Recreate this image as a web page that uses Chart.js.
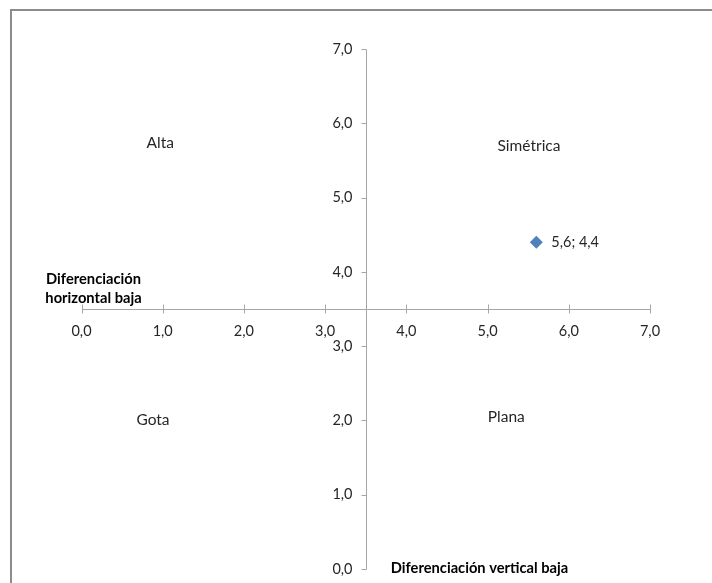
<!DOCTYPE html>
<html>
<head>
<meta charset="utf-8">
<script src="https://cdn.jsdelivr.net/npm/chart.js@4/dist/chart.umd.min.js"></script>
<style>
  html, body { margin: 0; padding: 0; background: #ffffff; }
  canvas { display: block; }
</style>
</head>
<body>
<canvas id="chart" width="712" height="583"></canvas>
<script>
// Tick values and their labels (decimal comma)
const xTickValues = [0, 1, 2, 3, 4, 5, 6, 7];
const yTickValues = [0, 1, 2, 3, 4, 5, 6, 7];
const xTickLabels = ['0,0', '1,0', '2,0', '3,0', '4,0', '5,0', '6,0', '7,0'];
const yTickLabels = ['0,0', '1,0', '2,0', '3,0', '4,0', '5,0', '6,0', '7,0'];

// The single observation
const pointX = [5.6];
const pointY = [4.4];
const pointLabels = ['5,6; 4,4'];

// Where the two axes cross
const crossX = 3.5;
const crossY = 3.5;

// Quadrant names
const quadrantNames = ['Alta', 'Simétrica', 'Gota', 'Plana'];

// Axis titles
const xTitleLines = ['Diferenciación', 'horizontal baja'];
const yTitle = 'Diferenciación vertical baja';

const FONT = 'Lato, "Open Sans", sans-serif';
const TEXT = '#262626';
const AXIS = '#A6A6A6';

// anchors of the quadrant names, in data units
const quadrantAnchors = [[0.97, 5.74], [5.51, 5.70], [0.88, 2.0], [5.23, 2.04]];

const quadrantPlugin = {
  id: 'quadrantAxes',
  beforeDatasetsDraw(chart) {
    const ctx = chart.ctx;
    const xs = chart.scales.x, ys = chart.scales.y;
    ctx.save();

    // outer frame
    ctx.fillStyle = '#8C8C8C';
    ctx.fillRect(10, 9, 2, chart.height);
    ctx.fillRect(10, 9, chart.width, 2);

    const y0 = Math.round(ys.getPixelForValue(crossY)) + 0.5;
    const x0 = Math.round(xs.getPixelForValue(crossX)) + 0.5;
    const xl = Math.round(xs.getPixelForValue(xTickValues[0])) + 0.5;
    const xr = Math.round(xs.getPixelForValue(xTickValues[xTickValues.length - 1])) + 0.5;
    const yt = Math.round(ys.getPixelForValue(yTickValues[yTickValues.length - 1])) + 0.5;
    const yb = Math.round(ys.getPixelForValue(yTickValues[0])) + 0.5;

    ctx.lineWidth = 1;
    ctx.strokeStyle = AXIS;
    ctx.beginPath();
    // horizontal axis with cross ticks
    ctx.moveTo(xl, y0); ctx.lineTo(xr, y0);
    xTickValues.forEach(v => {
      const px = Math.round(xs.getPixelForValue(v)) + 0.5;
      ctx.moveTo(px, y0 - 5); ctx.lineTo(px, y0 + 4);
    });
    // vertical axis with outside ticks
    ctx.moveTo(x0, yt); ctx.lineTo(x0, yb);
    yTickValues.forEach(v => {
      const py = Math.round(ys.getPixelForValue(v)) + 0.5;
      ctx.moveTo(x0 - 5, py); ctx.lineTo(x0, py);
    });
    ctx.stroke();

    // tick labels
    ctx.fillStyle = TEXT;
    ctx.font = '14.5px ' + FONT;
    ctx.textBaseline = 'middle';
    ctx.textAlign = 'center';
    xTickValues.forEach((v, i) => {
      ctx.fillText(xTickLabels[i], xs.getPixelForValue(v), y0 + 22);
    });
    ctx.textAlign = 'right';
    yTickValues.forEach((v, i) => {
      ctx.fillText(yTickLabels[i], x0 - 14, ys.getPixelForValue(v));
    });

    // quadrant names
    ctx.textAlign = 'center';
    ctx.font = '15.5px ' + FONT;
    quadrantNames.forEach((name, i) => {
      const [qx, qy] = quadrantAnchors[i];
      ctx.fillText(name, xs.getPixelForValue(qx), ys.getPixelForValue(qy));
    });

    // axis titles
    ctx.font = 'bold 14.7px ' + FONT;
    ctx.fillStyle = '#000000';
    const tx = xs.getPixelForValue(xTickValues[0]) + 12;
    ctx.fillText(xTitleLines[0], tx, y0 - 30);
    ctx.fillText(xTitleLines[1], tx, y0 - 11);
    ctx.fillText(yTitle, x0 + 113, ys.getPixelForValue(yTickValues[0]) - 1);

    ctx.restore();
  },
  afterDatasetsDraw(chart) {
    const ctx = chart.ctx;
    const meta = chart.getDatasetMeta(0);
    ctx.save();
    ctx.fillStyle = TEXT;
    ctx.font = '14.5px ' + FONT;
    ctx.textAlign = 'left';
    ctx.textBaseline = 'middle';
    meta.data.forEach((el, i) => {
      ctx.fillText(pointLabels[i], el.x + 15, el.y);
    });
    ctx.restore();
  }
};

new Chart(document.getElementById('chart'), {
  type: 'scatter',
  data: {
    datasets: [{
      data: pointX.map((x, i) => ({ x: x, y: pointY[i] })),
      pointStyle: 'rectRot',
      radius: 6.5,
      backgroundColor: '#4F81BD',
      borderColor: '#4F81BD',
      borderWidth: 0
    }]
  },
  options: {
    responsive: false,
    devicePixelRatio: 1,
    animation: false,
    layout: { padding: { left: 81.5, right: 62, top: 49, bottom: 14 } },
    plugins: { legend: { display: false }, tooltip: { enabled: false } },
    scales: {
      x: { type: 'linear', min: 0, max: 7, display: false },
      y: { type: 'linear', min: 0, max: 7, display: false }
    }
  },
  plugins: [quadrantPlugin]
});
</script>
</body>
</html>
